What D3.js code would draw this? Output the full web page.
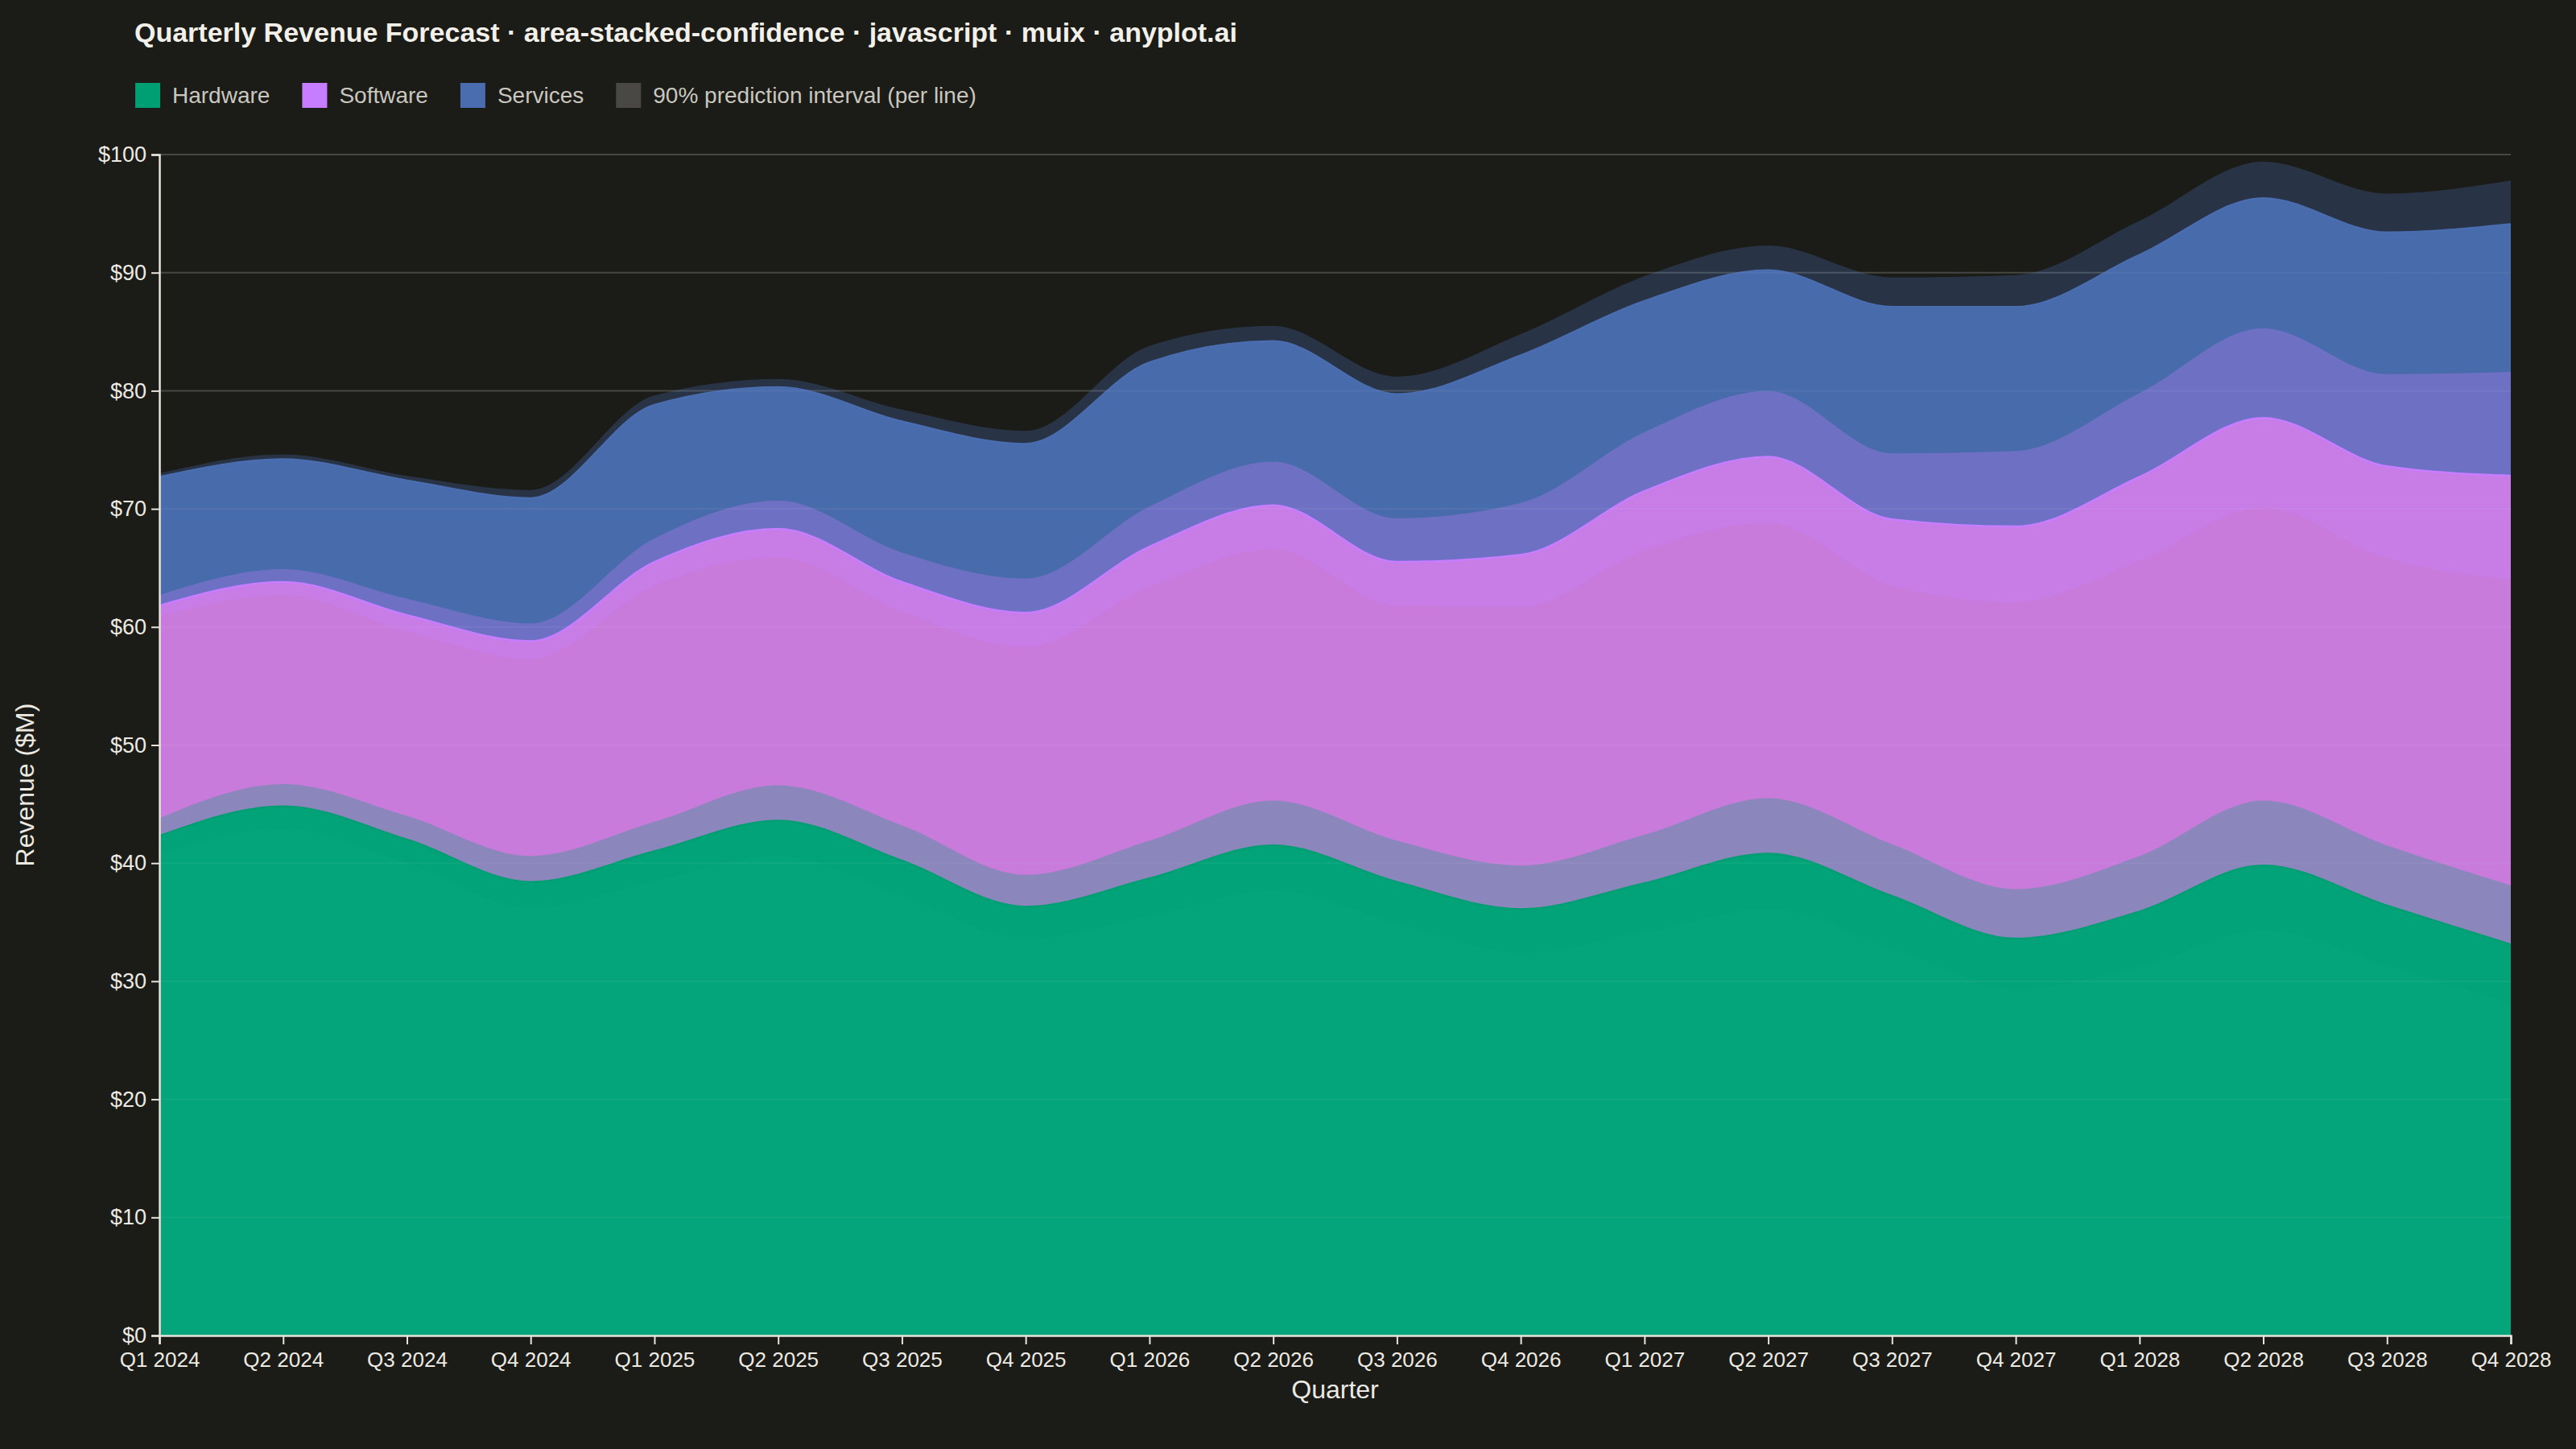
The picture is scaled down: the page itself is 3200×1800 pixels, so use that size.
<!DOCTYPE html>
<html>
<head>
<meta charset="utf-8">
<script src="https://cdn.jsdelivr.net/npm/d3@7"></script>
<style>
  html, body { margin: 0; padding: 0; background: #1b1b17; }
  svg { display: block; font-family: "Liberation Sans", Arial, sans-serif; }
</style>
</head>
<body>
<div id="chart"></div>
<script>
// quarterly revenue, $M
var quarters = ["Q1 2024", "Q2 2024", "Q3 2024", "Q4 2024", "Q1 2025", "Q2 2025", "Q3 2025", "Q4 2025",
    "Q1 2026", "Q2 2026", "Q3 2026", "Q4 2026", "Q1 2027", "Q2 2027", "Q3 2027", "Q4 2027",
    "Q1 2028", "Q2 2028", "Q3 2028", "Q4 2028"];

var hardware = [42.3, 44.8, 42.0, 38.4, 41.0, 43.6, 40.2, 36.3, 38.7, 41.5,
    38.4, 36.1, 38.3, 40.8, 37.2, 33.6, 35.9, 39.8, 36.4, 33.1];
var software = [19.5, 19.0, 19.0, 20.4, 24.5, 24.7, 23.6, 24.9, 28.1, 28.8,
    27.1, 30.0, 33.2, 33.6, 31.9, 34.9, 36.8, 37.9, 37.2, 39.7];
var services = [10.9, 10.4, 11.4, 12.1, 13.3, 12.0, 13.6, 14.3, 15.6, 13.9,
    14.2, 16.9, 16.1, 15.8, 18.0, 18.6, 18.8, 18.6, 19.8, 21.3];

// half width of the 90% prediction interval around each stacked line
var hardwareSpread = [1.5, 1.9, 2.0, 2.2, 2.5, 3.0, 3.0, 2.7, 3.2, 3.8,
    3.5, 3.7, 4.1, 4.7, 4.4, 4.2, 4.7, 5.5, 5.1, 5.0];
var softwareSpread = [0.9, 1.1, 1.4, 1.5, 2.0, 2.4, 2.5, 2.9, 3.4, 3.7,
    3.7, 4.4, 5.0, 5.6, 5.6, 6.4, 7.1, 7.6, 7.8, 8.8];
var servicesSpread = [0.3, 0.4, 0.4, 0.7, 0.8, 0.7, 1.0, 1.1, 1.4, 1.3,
    1.5, 1.8, 2.1, 2.1, 2.5, 2.7, 2.9, 3.1, 3.3, 3.7];

var seriesNames = ["Hardware", "Software", "Services"];
var yTicks = [0, 10, 20, 30, 40, 50, 60, 70, 80, 90, 100];

var colors = { Hardware: "#009e73", Software: "#c77dff", Services: "#4a6db0" };
var areaColors = { Hardware: "#04a57a", Software: "#c87bdb", Services: "#486bab" };

var svgWidth = 3200;
var svgHeight = 1800;

var margin = { top: 192, right: 81, bottom: 141, left: 198 };
var width = svgWidth - margin.left - margin.right;
var height = svgHeight - margin.top - margin.bottom;

var svg = d3.select("#chart")
    .append("svg")
    .attr("width", svgWidth)
    .attr("height", svgHeight);

svg.append("rect")
    .attr("width", svgWidth)
    .attr("height", svgHeight)
    .attr("fill", "#1b1b17");

var chartGroup = svg.append("g")
    .attr("transform", `translate(${margin.left}, ${margin.top})`);

// rows for the stack
var rows = quarters.map(function(q, i) {
    return { quarter: q, Hardware: hardware[i], Software: software[i], Services: services[i] };
});
var spreads = { Hardware: hardwareSpread, Software: softwareSpread, Services: servicesSpread };

var stacked = d3.stack().keys(seriesNames)(rows);

var xScale = d3.scalePoint()
    .domain(quarters)
    .range([0, width]);

var yScale = d3.scaleLinear()
    .domain([0, 100])
    .range([height, 0]);

// grid under the areas
chartGroup.append("g")
    .selectAll("line")
    .data(yTicks)
    .enter()
    .append("line")
    .attr("x1", 0)
    .attr("x2", width)
    .attr("y1", d => yScale(d))
    .attr("y2", d => yScale(d))
    .attr("stroke", "#3d3d39")
    .attr("stroke-width", 2);

var curve = d3.curveMonotoneX;

// stacked areas
var area = d3.area()
    .curve(curve)
    .x(d => xScale(d.data.quarter))
    .y0(d => yScale(d[0]))
    .y1(d => yScale(d[1]));

chartGroup.selectAll(".layer")
    .data(stacked)
    .enter()
    .append("path")
    .attr("class", "layer")
    .attr("d", area)
    .attr("fill", d => areaColors[d.key]);

// prediction interval bands around each stacked line
stacked.forEach(function(layer) {
    var sp = spreads[layer.key];
    var band = d3.area()
        .curve(curve)
        .x(d => xScale(d.data.quarter))
        .y0((d, i) => yScale(d[1] - sp[i]))
        .y1((d, i) => yScale(d[1] + sp[i]));
    chartGroup.append("path")
        .datum(layer)
        .attr("d", band)
        .attr("fill", colors[layer.key])
        .attr("fill-opacity", 0.3);
});

// stacked lines
var line = d3.line()
    .curve(curve)
    .x(d => xScale(d.data.quarter))
    .y(d => yScale(d[1]));

chartGroup.selectAll(".topline")
    .data(stacked)
    .enter()
    .append("path")
    .attr("class", "topline")
    .attr("d", line)
    .attr("fill", "none")
    .attr("stroke", d => colors[d.key])
    .attr("stroke-width", 2.5);

// faint grid over the areas
chartGroup.append("g")
    .selectAll("line")
    .data(yTicks.slice(1))
    .enter()
    .append("line")
    .attr("x1", 0)
    .attr("x2", width)
    .attr("y1", d => yScale(d))
    .attr("y2", d => yScale(d))
    .attr("stroke", "#ffffff")
    .attr("stroke-opacity", 0.05)
    .attr("stroke-width", 2);

// axes
var bottomAxis = d3.axisBottom(xScale).tickSize(11).tickPadding(10);
var leftAxis = d3.axisLeft(yScale).tickValues(yTicks).tickFormat(d => "$" + d).tickSize(10).tickPadding(6);

var xAxisG = chartGroup.append("g")
    .attr("transform", `translate(0, ${height})`)
    .call(bottomAxis);

var yAxisG = chartGroup.append("g")
    .call(leftAxis);

[xAxisG, yAxisG].forEach(function(g) {
    g.selectAll("path").attr("stroke", "#e6e4dc").attr("stroke-width", 2.5);
    g.selectAll("line").attr("stroke", "#e6e4dc").attr("stroke-width", 2);
    g.selectAll("text")
        .attr("fill", "#eceae2")
        .style("font-family", "Liberation Sans, Arial, sans-serif");
});
xAxisG.selectAll("text").style("font-size", "26px");
yAxisG.selectAll("text").style("font-size", "27px");

// axis labels
chartGroup.append("text")
    .attr("transform", "rotate(-90)")
    .attr("x", 0 - 783)
    .attr("y", 0 - margin.left + 42)
    .attr("text-anchor", "middle")
    .attr("fill", "#eceae2")
    .style("font-size", "32px")
    .text("Revenue ($M)");

chartGroup.append("text")
    .attr("x", width / 2)
    .attr("y", height + 78)
    .attr("text-anchor", "middle")
    .attr("fill", "#eceae2")
    .style("font-size", "32px")
    .text("Quarter");

// title
svg.append("text")
    .attr("x", 167)
    .attr("y", 52)
    .attr("fill", "#f2f0e8")
    .style("font-size", "34px")
    .style("font-weight", "bold")
    .text("Quarterly Revenue Forecast · area-stacked-confidence · javascript · muix · anyplot.ai");

// legend
var legendItems = [
    { label: "Hardware", color: colors.Hardware },
    { label: "Software", color: colors.Software },
    { label: "Services", color: colors.Services },
    { label: "90% prediction interval (per line)", color: "#4a4844" }
];

var legend = svg.append("g").attr("transform", "translate(168, 103)");
var lx = 0;
legendItems.forEach(function(item) {
    var g = legend.append("g").attr("transform", `translate(${lx}, 0)`);
    g.append("rect")
        .attr("width", 31)
        .attr("height", 31)
        .attr("fill", item.color);
    var t = g.append("text")
        .attr("x", 46)
        .attr("y", 25)
        .attr("fill", "#c9c7bf")
        .style("font-size", "28px")
        .text(item.label);
    lx += 46 + t.node().getComputedTextLength() + 40;
});
</script>
</body>
</html>
